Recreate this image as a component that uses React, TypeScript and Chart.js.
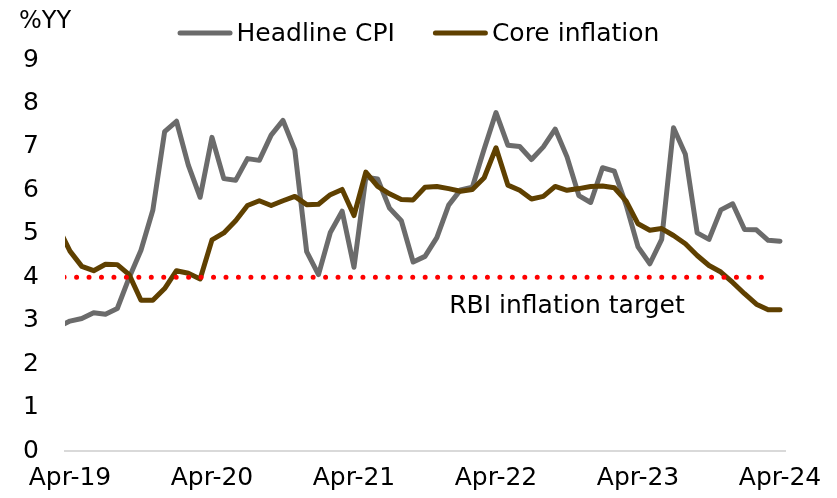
import { useEffect, useRef } from 'react';
import { Chart, registerables } from 'chart.js';

Chart.register(...registerables);

const months = [
  'Mar-19', 'Apr-19', 'May-19', 'Jun-19', 'Jul-19', 'Aug-19', 'Sep-19', 'Oct-19', 'Nov-19', 'Dec-19',
  'Jan-20', 'Feb-20', 'Mar-20', 'Apr-20', 'May-20', 'Jun-20', 'Jul-20', 'Aug-20', 'Sep-20', 'Oct-20', 'Nov-20', 'Dec-20',
  'Jan-21', 'Feb-21', 'Mar-21', 'Apr-21', 'May-21', 'Jun-21', 'Jul-21', 'Aug-21', 'Sep-21', 'Oct-21', 'Nov-21', 'Dec-21',
  'Jan-22', 'Feb-22', 'Mar-22', 'Apr-22', 'May-22', 'Jun-22', 'Jul-22', 'Aug-22', 'Sep-22', 'Oct-22', 'Nov-22', 'Dec-22',
  'Jan-23', 'Feb-23', 'Mar-23', 'Apr-23', 'May-23', 'Jun-23', 'Jul-23', 'Aug-23', 'Sep-23', 'Oct-23', 'Nov-23', 'Dec-23',
  'Jan-24', 'Feb-24', 'Mar-24', 'Apr-24',
];

const headlineCPI = [
  2.86, 2.99, 3.05, 3.18, 3.15, 3.28, 3.99, 4.62, 5.54, 7.35,
  7.59, 6.58, 5.84, 7.22, 6.27, 6.23, 6.73, 6.69, 7.27, 7.61, 6.93, 4.59,
  4.06, 5.03, 5.52, 4.23, 6.30, 6.26, 5.59, 5.30, 4.35, 4.48, 4.91, 5.66,
  6.01, 6.07, 6.95, 7.79, 7.04, 7.01, 6.71, 7.00, 7.41, 6.77, 5.88, 5.72,
  6.52, 6.44, 5.66, 4.70, 4.31, 4.87, 7.44, 6.83, 5.02, 4.87, 5.55, 5.69,
  5.10, 5.09, 4.85, 4.83,
];

const coreInflation = [
  5.15, 4.60, 4.25, 4.15, 4.30, 4.29, 4.06, 3.47, 3.47, 3.74,
  4.15, 4.09, 3.96, 4.86, 5.02, 5.30, 5.65, 5.76, 5.65, 5.76, 5.86, 5.67,
  5.68, 5.90, 6.02, 5.42, 6.42, 6.09, 5.92, 5.79, 5.78, 6.07, 6.09, 6.04,
  5.98, 6.02, 6.29, 6.98, 6.12, 6.00, 5.80, 5.86, 6.09, 6.00, 6.04, 6.09,
  6.10, 6.06, 5.75, 5.23, 5.08, 5.12, 4.96, 4.77, 4.50, 4.27, 4.12, 3.88,
  3.62, 3.38, 3.25, 3.25,
];

const tickMonths = ['Apr-19', 'Apr-20', 'Apr-21', 'Apr-22', 'Apr-23', 'Apr-24'];
const seriesNames = ['Headline CPI', 'Core inflation'];
const yTitle = '%YY';
const targetRate = 4;
const targetFrom = 'Mar-19';
const targetTo = 'Mar-24';
const targetLabel = 'RBI inflation target';
const targetLabelMonth = 'Oct-22';
const targetLabelValue = 3.33;

const GREY = '#6b6b6b';
const BROWN = '#5f4000';
const FAMILY = '"DejaVu Sans", sans-serif';
const FS = 25;

// month index relative to Apr-19
const idx = (m: string) => months.indexOf(m) - 1;

const decor = {
  id: 'decor',
  afterDraw(chart: any) {
    const { ctx } = chart;
    const xs = chart.scales.x;
    const ys = chart.scales.y;
    ctx.save();
    ctx.fillStyle = '#000';
    // y title
    ctx.font = `24px ${FAMILY}`;
    ctx.textAlign = 'left';
    ctx.textBaseline = 'alphabetic';
    ctx.fillText(yTitle, 19, 28);
    // target label
    ctx.font = `${FS}px ${FAMILY}`;
    ctx.textAlign = 'center';
    ctx.textBaseline = 'middle';
    ctx.fillText(targetLabel, xs.getPixelForValue(idx(targetLabelMonth)), ys.getPixelForValue(targetLabelValue));
    // legend
    const items = [
      { label: seriesNames[0], color: GREY },
      { label: seriesNames[1], color: BROWN },
    ];
    const sample = 55;
    const gap = 4;
    const itemGap = 38;
    const widths = items.map((it) => sample + gap + ctx.measureText(it.label).width);
    const total = widths.reduce((a, b) => a + b, 0) + itemGap * (items.length - 1);
    let x = (chart.width - total) / 2;
    const y = 33;
    items.forEach((it, i) => {
      ctx.strokeStyle = it.color;
      ctx.lineWidth = 5;
      ctx.lineCap = 'round';
      ctx.beginPath();
      ctx.moveTo(x + 2.5, y);
      ctx.lineTo(x + sample - 2.5, y);
      ctx.stroke();
      ctx.textAlign = 'left';
      ctx.textBaseline = 'middle';
      ctx.fillStyle = '#000';
      ctx.fillText(it.label, x + sample + gap, y + 1);
      x += widths[i] + itemGap;
    });
    ctx.restore();
  },
};

export default function App() {
  const ref = useRef<HTMLCanvasElement>(null);
  useEffect(() => {
    if (!ref.current) return;
    const pts = (arr: number[]) => arr.map((v, i) => ({ x: i - 1, y: v }));
    const targetPts = months
      .slice(months.indexOf(targetFrom), months.indexOf(targetTo) + 1)
      .map((m) => ({ x: idx(m), y: targetRate }));
    const tickVals = tickMonths.map(idx);
    const chart = new Chart(ref.current, {
      type: 'line',
      data: {
        datasets: [
          {
            label: 'target',
            data: targetPts,
            borderColor: '#ff0000',
            borderWidth: 5,
            borderDash: [0, 12.45],
            borderDashOffset: -6,
            borderCapStyle: 'round',
            pointRadius: 0,
            clip: 0,
          } as any,
          {
            label: seriesNames[1],
            data: pts(coreInflation),
            borderColor: BROWN,
            backgroundColor: BROWN,
            borderWidth: 5,
            borderJoinStyle: 'round',
            borderCapStyle: 'round',
            pointRadius: 0,
            tension: 0,
            clip: 0,
          },
          {
            label: seriesNames[0],
            data: pts(headlineCPI),
            borderColor: GREY,
            backgroundColor: GREY,
            borderWidth: 5,
            borderJoinStyle: 'round',
            borderCapStyle: 'round',
            pointRadius: 0,
            tension: 0,
            clip: 0,
          },
        ],
      },
      options: {
        responsive: false,
        animation: false,
        events: [],
        layout: { padding: { top: 60, right: 52, left: 0, bottom: 0 } },
        plugins: { legend: { display: false }, tooltip: { enabled: false } },
        scales: {
          x: {
            type: 'linear',
            min: -0.42,
            max: 60.42,
            grid: { display: false, drawTicks: false },
            border: { display: true, color: '#d9d9d9', width: 2 },
            afterBuildTicks: (scale: any) => {
              scale.ticks = tickVals.map((v) => ({ value: v }));
            },
            afterFit: (scale: any) => {
              scale.height = 47;
            },
            ticks: {
              autoSkip: false,
              maxRotation: 0,
              padding: 12,
              color: '#000',
              font: { family: FAMILY, size: FS },
              callback: (v: any) => months[Number(v) + 1],
            },
          },
          y: {
            min: 0,
            max: 9,
            grid: { display: false, drawTicks: false },
            border: { display: false },
            afterFit: (scale: any) => {
              scale.width = 65;
            },
            ticks: {
              stepSize: 1,
              padding: 26,
              color: '#000',
              font: { family: FAMILY, size: FS },
            },
          },
        },
      },
      plugins: [decor],
    });
    return () => chart.destroy();
  }, []);
  return (
    <div style={{ position: 'fixed', left: 0, top: 0, width: 837, height: 498, background: '#fff' }}>
      <canvas ref={ref} width={837} height={498} />
    </div>
  );
}
